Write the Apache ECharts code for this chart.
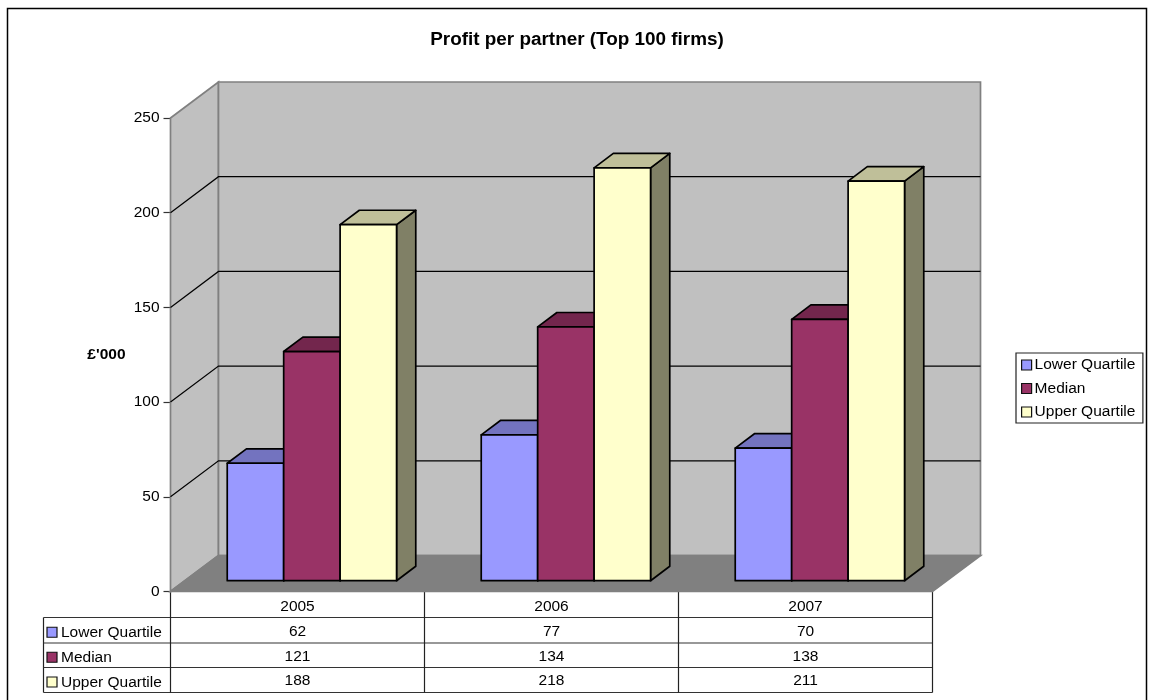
<!DOCTYPE html>
<html>
<head>
<meta charset="utf-8">
<title>Profit per partner</title>
<style>
html, body { margin: 0; padding: 0; background: #fff; overflow: hidden; }
#chart { width: 1153px; height: 700px; }
</style>
<script src="https://cdn.jsdelivr.net/npm/echarts@6/dist/echarts.min.js"></script>
</head>
<body>
<div id="chart"></div>
<script>
const years = ['2005', '2006', '2007'];
const lowerQuartile = [62, 77, 70];
const median = [121, 134, 138];
const upperQuartile = [188, 218, 211];
const seriesNames = ['Lower Quartile', 'Median', 'Upper Quartile'];
const frontColors = ['#9999FF', '#993366', '#FFFFCC'];
const topColors = ['#7373BF', '#73264D', '#BFBF99'];
const sideColors = ['#4D4D80', '#4D1A33', '#808066'];
const seriesValues = [lowerQuartile, median, upperQuartile];

const FONT = '"Liberation Sans", Arial, sans-serif';
const FONT_SIZE = 15.5;
const DEPTH_X = 48;
const DEPTH_Y = -36;
const TABLE_ROWS = [617.5, 643, 667.5, 692.5];
const TABLE_LEFT = 43.5;
const EDGE = '#808080';

// One 3D column: front face, top and right side, placed at 30%-70% of the floor depth.
function renderColumn(seriesIndex) {
  return function (params, api) {
    const cat = api.value(0);
    const band = api.size([1, 0])[0];
    const w = band / 4.5;
    const base = api.coord([cat, 0]);
    const top = api.coord([cat, api.value(1)]);
    const x0 = base[0] - 1.5 * w + (seriesIndex * w) + DEPTH_X * 0.3;
    const x1 = x0 + w;
    const yb = base[1] + DEPTH_Y * 0.3;
    const yt = top[1] + DEPTH_Y * 0.3;
    const dx = DEPTH_X * 0.4;
    const dy = DEPTH_Y * 0.4;
    const stroke = { stroke: '#000', lineWidth: 1.7, lineJoin: 'round' };
    const poly = (points, fill) => ({
      type: 'polygon',
      shape: { points },
      style: Object.assign({ fill }, stroke)
    });
    return {
      type: 'group',
      children: [
        poly([[x1, yb], [x1 + dx, yb + dy], [x1 + dx, yt + dy], [x1, yt]], sideColors[seriesIndex]),
        poly([[x0, yt], [x0 + dx, yt + dy], [x1 + dx, yt + dy], [x1, yt]], topColors[seriesIndex]),
        poly([[x0, yb], [x1, yb], [x1, yt], [x0, yt]], frontColors[seriesIndex])
      ]
    };
  };
}

// Side wall, back wall and floor, with the value gridlines running across both walls.
function renderWalls(params, api) {
  const g = params.coordSys;
  const left = g.x, right = g.x + g.width, top = g.y, bottom = g.y + g.height;
  const wall = { stroke: EDGE, lineWidth: 1.7 };
  const children = [
    { type: 'polygon', shape: { points: [[left, bottom], [left + DEPTH_X, bottom + DEPTH_Y], [left + DEPTH_X, top + DEPTH_Y], [left, top]] }, style: Object.assign({ fill: '#C0C0C0' }, wall) },
    { type: 'polygon', shape: { points: [[left + DEPTH_X, bottom + DEPTH_Y], [right + DEPTH_X, bottom + DEPTH_Y], [right + DEPTH_X, top + DEPTH_Y], [left + DEPTH_X, top + DEPTH_Y]] }, style: Object.assign({ fill: '#C0C0C0' }, wall) },
    { type: 'polygon', shape: { points: [[left, bottom], [right, bottom], [right + DEPTH_X, bottom + DEPTH_Y], [left + DEPTH_X, bottom + DEPTH_Y]] }, style: Object.assign({ fill: '#808080' }, wall) }
  ];
  [50, 100, 150, 200].forEach(function (v) {
    const y = api.coord([0, v])[1];
    children.push({
      type: 'polyline',
      shape: { points: [[left, y], [left + DEPTH_X, y + DEPTH_Y], [right + DEPTH_X, y + DEPTH_Y]] },
      style: { fill: 'none', stroke: '#000', lineWidth: 1.2 }
    });
  });
  return { type: 'group', children };
}

// Values of the data table underneath the plot, one cell per datum.
function renderTableCell(params, api) {
  const row = api.value(1);
  return {
    type: 'text',
    style: {
      x: api.coord([api.value(0), 0])[0],
      y: (TABLE_ROWS[row] + TABLE_ROWS[row + 1]) / 2 + 1,
      text: String(api.value(2)),
      fill: '#000',
      font: FONT_SIZE + 'px ' + FONT,
      align: 'center',
      verticalAlign: 'middle'
    }
  };
}

const tableCells = [];
seriesValues.forEach(function (values, row) {
  values.forEach(function (v, cat) { tableCells.push([cat, row, v]); });
});

// Rules, keys and row names of the data table, plus the outer chart frame.
const tableGraphics = [
  { type: 'polyline', silent: true, shape: { points: [[7.5, 720], [7.5, 8.5], [1146.5, 8.5], [1146.5, 720]] }, style: { fill: 'none', stroke: '#000', lineWidth: 1.5 } },
  { type: 'line', silent: true, shape: { x1: TABLE_LEFT, y1: TABLE_ROWS[0], x2: TABLE_LEFT, y2: TABLE_ROWS[3] }, style: { stroke: '#222', lineWidth: 1.2 } }
];
TABLE_ROWS.forEach(function (y) {
  tableGraphics.push({ type: 'line', silent: true, shape: { x1: TABLE_LEFT, y1: y, x2: 932.5, y2: y }, style: { stroke: '#333', lineWidth: 1.2 } });
});
seriesNames.forEach(function (name, row) {
  const mid = (TABLE_ROWS[row] + TABLE_ROWS[row + 1]) / 2;
  tableGraphics.push({ type: 'rect', silent: true, shape: { x: 47, y: mid - 3, width: 10, height: 10 }, style: { fill: frontColors[row], stroke: '#111', lineWidth: 1.2 } });
  tableGraphics.push({ type: 'text', silent: true, style: { x: 61, y: mid + 2.5, text: name, fill: '#000', font: FONT_SIZE + 'px ' + FONT, align: 'left', verticalAlign: 'middle' } });
});

const columnSeries = seriesNames.map(function (name, i) {
  return {
    type: 'custom',
    name: name,
    z: 3,
    renderItem: renderColumn(i),
    encode: { x: 0, y: 1 },
    itemStyle: { color: frontColors[i] },
    data: seriesValues[i].map(function (v, cat) { return [cat, v]; })
  };
});

const chart = echarts.init(document.getElementById('chart'), null, { renderer: 'canvas' });
chart.setOption({
  animation: false,
  backgroundColor: '#fff',
  textStyle: { fontFamily: FONT },
  title: {
    text: 'Profit per partner (Top 100 firms)',
    left: 572,
    top: 25,
    textAlign: 'center',
    textStyle: { fontSize: 18.9, fontWeight: 'bold', color: '#000', fontFamily: FONT }
  },
  legend: {
    data: seriesNames,
    orient: 'vertical',
    left: 1016,
    top: 353,
    itemWidth: 10,
    itemHeight: 10,
    itemGap: 7.5,
    icon: 'rect',
    padding: [4, 7.5, 3, 5],
    borderColor: '#222',
    borderWidth: 1.2,
    backgroundColor: '#fff',
    selectedMode: false,
    itemStyle: { borderColor: '#111', borderWidth: 1.2 },
    textStyle: { fontSize: FONT_SIZE, color: '#000', fontFamily: FONT, padding: [0, 0, 0, -2] }
  },
  tooltip: { show: false },
  grid: { left: 170.5, right: 220.5, top: 118, bottom: 108.5 },
  xAxis: {
    type: 'category',
    data: years,
    axisLine: { show: true, lineStyle: { color: '#000', width: 1.2 } },
    axisTick: { show: true, length: 101, lineStyle: { color: '#222', width: 1.2 } },
    axisLabel: { color: '#000', fontSize: FONT_SIZE, margin: 7, fontFamily: FONT },
    splitLine: { show: false }
  },
  yAxis: {
    type: 'value',
    min: 0,
    max: 250,
    interval: 50,
    name: "£'000",
    nameLocation: 'middle',
    nameRotate: 0,
    nameGap: 45,
    nameTextStyle: { fontSize: FONT_SIZE, fontWeight: 'bold', color: '#000', fontFamily: FONT, padding: [6, 0, 0, 0] },
    axisLine: { show: true, lineStyle: { color: '#333', width: 1.5 } },
    axisTick: { show: true, length: 7, lineStyle: { color: '#333', width: 1.2 } },
    axisLabel: { color: '#000', fontSize: FONT_SIZE, margin: 11, fontFamily: FONT, padding: [2, 0, 0, 0] },
    splitLine: { show: false }
  },
  series: [
    { type: 'custom', name: 'walls', z: 1, renderItem: renderWalls, data: [[0, 0]], encode: { x: 0, y: 1 }, silent: true }
  ].concat(columnSeries, [
    { type: 'custom', name: 'table', z: 4, renderItem: renderTableCell, data: tableCells, encode: { x: 0 }, silent: true }
  ]),
  graphic: { elements: tableGraphics }
});
</script>
</body>
</html>
